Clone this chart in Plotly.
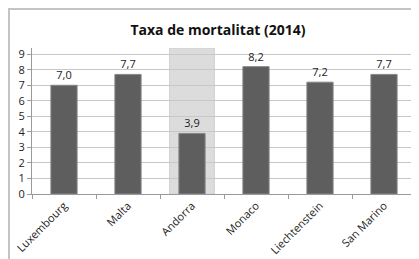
import plotly.graph_objects as go

countries = ["Luxembourg", "Malta", "Andorra", "Monaco", "Liechtenstein", "San Marino"]
mortality = [7.0, 7.7, 3.9, 8.2, 7.2, 7.7]
y_ticks = [0, 1, 2, 3, 4, 5, 6, 7, 8, 9]
highlight = "Andorra"
title_text = "Taxa de mortalitat (2014)"

# page has an 8px body margin; the figure starts at (8, 8)
W, H = 411, 251
L, R, T, B = 24, 3, 40, 65
PW, PH = W - L - R, H - T - B

fig = go.Figure()
fig.add_trace(go.Bar(
    x=countries, y=mortality,
    marker=dict(color="#5e5e5e", line=dict(color="#888888", width=1)),
    texttemplate="%{y:.1f}", textposition="outside",
    textfont=dict(family="Open Sans, sans-serif", size=11, color="#222"),
    cliponaxis=False,
))

hi = countries.index(highlight)
fig.add_shape(type="rect", xref="x", yref="y", x0=hi - 0.35, x1=hi + 0.35,
              y0=0, y1=9.4, fillcolor="#dcdcdc", line=dict(color="#d0d0d0", width=1),
              layer="below")

# outer chart border (left and top edges)
fig.add_shape(type="line", xref="paper", yref="paper", x0=-L / PW, x1=1 + R / PW,
              y0=1 + (T - 1) / PH, y1=1 + (T - 1) / PH,
              line=dict(color="#c4c4c4", width=2))
fig.add_shape(type="line", xref="paper", yref="paper", x0=-(L - 1) / PW, x1=-(L - 1) / PW,
              y0=-B / PH, y1=1 + T / PH,
              line=dict(color="#c4c4c4", width=2))

fig.update_layout(
    width=W, height=H,
    margin=dict(l=L, r=R, t=T, b=B, autoexpand=False),
    paper_bgcolor="white", plot_bgcolor="white",
    separators=",.",
    bargap=0.59,
    showlegend=False,
    title=dict(text=f"<b>{title_text}</b>", x=210 / W, xref="container", xanchor="center",
               y=1 - 22 / H, yref="container", yanchor="middle",
               font=dict(family="Open Sans, sans-serif", size=14, color="#111"), automargin=False),
    font=dict(family="Open Sans, sans-serif", color="#222"),
)
fig.update_yaxes(range=[0, 9.4], tickvals=y_ticks, showgrid=True, gridcolor="#c8c8c8",
                 gridwidth=1, showline=True, linecolor="#9a9a9a", ticks="outside",
                 ticklen=4, tickcolor="#9a9a9a", tickfont=dict(size=11, color="#222"),
                 zeroline=False, automargin=False)
fig.update_xaxes(showline=True, linecolor="#9a9a9a", ticks="outside", tickson="boundaries",
                 ticklen=4, tickcolor="#9a9a9a", tickangle=-45, automargin=False,
                 tickfont=dict(size=11, color="#222"))

fig.write_html("out.html")
